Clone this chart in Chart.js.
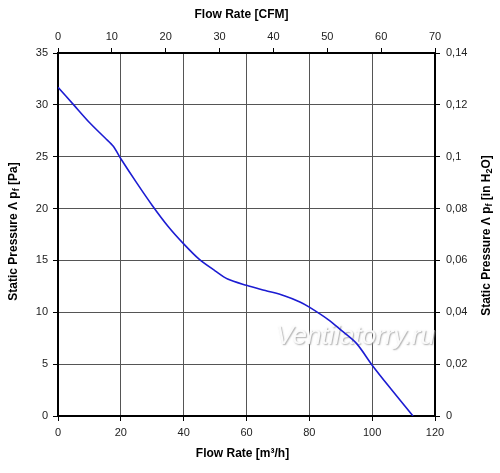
<!DOCTYPE html>
<html><head><meta charset="utf-8">
<script src="https://cdn.jsdelivr.net/npm/chart.js@4"></script>
<style>html,body{margin:0;padding:0;background:#fff}#wrap{width:500px;height:473px;position:relative}</style>
</head><body><div id="wrap"><canvas id="c"></canvas></div>
<script>
// Data
const flowM3h   = [0, 5, 10, 15, 17.6, 20, 25, 30, 35, 40, 45, 50, 54, 60, 66, 72, 77, 80, 86, 90, 95, 100, 106, 113];
const pressurePa = [31.7, 30.0, 28.3, 26.8, 26.0, 24.8, 22.5, 20.3, 18.3, 16.6, 15.1, 14.0, 13.2, 12.6, 12.1, 11.6, 11.0, 10.5, 9.3, 8.3, 7.0, 4.9, 2.6, 0];

// Axis ranges / tick steps
const xM3hRange = [0, 120], xM3hStep = 20;
const xCfmRange = [0, 70],  xCfmStep = 10;
const yPaRange  = [0, 35],  yPaStep  = 5;
const yInRange  = [0, 0.14], yInStep = 0.02;

const titleTop = 'Flow Rate [CFM]';
const titleBottom = 'Flow Rate [m\u00B3/h]';
const watermark = 'Ventilatorry.ru';

const points = flowM3h.map((x, i) => ({x, y: pressurePa[i]}));
const FONT = '"Liberation Sans", Arial, sans-serif';

function drawParts(ctx, parts, x, y) {
  const base = 'bold 12px ' + FONT, small = 'bold 9px ' + FONT;
  let w = 0;
  parts.forEach(p => { ctx.font = p[1] ? small : base; w += ctx.measureText(p[0]).width; });
  let cx = x - w / 2;
  ctx.textAlign = 'left';
  ctx.textBaseline = 'middle';
  parts.forEach(p => {
    ctx.font = p[1] ? small : base;
    ctx.fillText(p[0], cx, y + (p[1] ? 3 : 0));
    cx += ctx.measureText(p[0]).width;
  });
}

const titlesPlugin = {
  id: 'titles',
  beforeDatasetsDraw(chart) {
    const {ctx} = chart;
    ctx.save();
    ctx.font = 'italic 26px ' + FONT;
    ctx.textAlign = 'center';
    ctx.textBaseline = 'middle';
    ctx.shadowColor = 'rgba(150,150,150,0.8)';
    ctx.shadowBlur = 1.5;
    ctx.shadowOffsetX = 1;
    ctx.shadowOffsetY = 1;
    ctx.fillStyle = 'rgba(252,252,252,0.97)';
    const sx = chart.scales.x, sy = chart.scales.y;
    ctx.fillText(watermark, sx.getPixelForValue(94.7), sy.getPixelForValue(7.6));
    ctx.restore();
  },
  afterDraw(chart) {
    const {ctx, chartArea: a} = chart;
    ctx.save();
    ctx.fillStyle = '#000';
    const cx = (a.left + a.right) / 2 - 5;
    drawParts(ctx, [[titleTop]], cx, 15);
    drawParts(ctx, [[titleBottom]], cx + 1, 454);
    const cy = (a.top + a.bottom) / 2;
    ctx.save();
    ctx.translate(14, cy - 3);
    ctx.rotate(-Math.PI / 2);
    drawParts(ctx, [['Static Pressure \u039B p'], ['f', 1], [' [Pa]']], 0, 0);
    ctx.restore();
    ctx.save();
    ctx.translate(487, cy + 1);
    ctx.rotate(-Math.PI / 2);
    drawParts(ctx, [['Static Pressure \u039B p'], ['f', 1], [' [in H'], ['2', 1], ['O]']], 0, 0);
    ctx.restore();
    ctx.restore();
  }
};

const tickFont = {family: FONT, size: 11};
const tickColor = '#222';

new Chart(document.getElementById('c'), {
  type: 'line',
  data: {
    datasets: [{
      data: points,
      borderColor: '#1c1cd2',
      borderWidth: 1.6,
      pointRadius: 0,
      fill: false,
      tension: 0.3,
      xAxisID: 'x', yAxisID: 'y'
    }]
  },
  options: {
    responsive: true,
    maintainAspectRatio: false,
    animation: false,
    layout: {padding: 0},
    plugins: {legend: {display: false}, tooltip: {enabled: false}},
    scales: {
      x: {
        type: 'linear', position: 'bottom',
        min: xM3hRange[0], max: xM3hRange[1],
        ticks: {stepSize: xM3hStep, font: tickFont, color: tickColor, padding: 5, maxRotation: 0},
        grid: {color: '#555', lineWidth: 1, tickLength: 5, tickColor: '#000'},
        border: {color: '#000', width: 2},
        afterFit: s => { s.height = 57; }
      },
      x2: {
        type: 'linear', position: 'top',
        min: xCfmRange[0], max: xCfmRange[1],
        ticks: {stepSize: xCfmStep, font: tickFont, color: tickColor, padding: 4, maxRotation: 0},
        grid: {drawOnChartArea: false, tickLength: 5, tickColor: '#000'},
        border: {color: '#000', width: 2},
        afterFit: s => { s.height = 53; }
      },
      y: {
        type: 'linear', position: 'left',
        min: yPaRange[0], max: yPaRange[1],
        ticks: {stepSize: yPaStep, font: tickFont, color: tickColor, padding: 5},
        grid: {color: '#555', lineWidth: 1, tickLength: 5, tickColor: '#000'},
        border: {color: '#000', width: 2},
        afterFit: s => { s.width = 58; }
      },
      y2: {
        type: 'linear', position: 'right',
        min: yInRange[0], max: yInRange[1],
        ticks: {stepSize: yInStep, font: tickFont, color: tickColor, padding: 6,
          callback: v => { const r = Math.round(v * 100) / 100; return r === 0 ? '0' : String(r).replace('.', ','); }},
        grid: {drawOnChartArea: false, tickLength: 5, tickColor: '#000'},
        border: {color: '#000', width: 2},
        afterFit: s => { s.width = 65; }
      }
    }
  },
  plugins: [titlesPlugin]
});
</script>
</body></html>
